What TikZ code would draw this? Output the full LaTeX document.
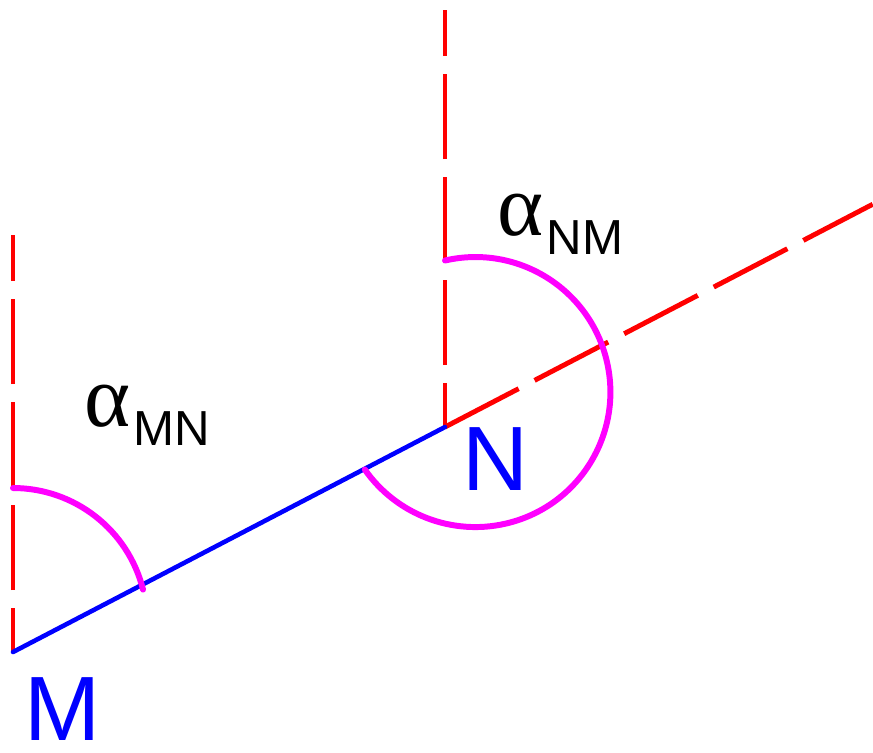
\documentclass[tikz,border=0pt]{standalone}
\usepackage{fontspec}
\setmainfont{Liberation Sans}
\newfontfamily\greekfont{Liberation Serif}
\usetikzlibrary{calc}
\definecolor{arcmagenta}{RGB}{255,0,255}
\begin{document}
\begin{tikzpicture}[line cap=round,line join=round,
  northline/.style={red,line width=1.4pt,line cap=butt,dash pattern=on 0.85cm off 0.18cm,dash phase=0.41cm},
  extline/.style={red,line width=1.4pt,line cap=butt,dash pattern=on 0.83cm off 0.18cm},
  anglearc/.style={arcmagenta,line width=1.7pt},
  ptlabel/.style={blue,font=\fontsize{26}{26}\selectfont,inner sep=0pt,anchor=base},
  azlabel/.style={inner sep=0pt,anchor=base west}]
  \useasboundingbox (0,0) rectangle (8.73,7.52);
  \coordinate (M) at (0.13,1.00);
  \coordinate (N) at (4.45,3.25);
  \coordinate (Mtop) at (0.13,5.17);
  \coordinate (Ntop) at (4.45,7.42);
  \coordinate (E) at ($(M)!1.99!(N)$);
  \draw[northline] (M) -- (Mtop);
  \draw[northline] (N) -- (Ntop);
  \draw[extline] (N) -- (E);
  \draw[blue,line width=1.3pt] (M) -- (N);
  \draw[anglearc] ([yshift=1.64cm]M) arc[start angle=90, end angle=14, radius=1.34];
  \draw[anglearc] ([yshift=1.665cm]N) arc[start angle=103, end angle=-145, radius=1.35];
  \node[ptlabel] (labM) at (0.625,0.12) {M};
  \node[ptlabel] (labN) at (4.95,2.62) {N};
  \node[azlabel] (azMN) at (0.84,3.26) {{\greekfont\fontsize{25}{25}\selectfont α}\kern0.03cm\raisebox{-0.19cm}{\fontsize{14}{14}\selectfont MN}};
  \node[azlabel] (azNM) at (4.97,5.17) {{\greekfont\fontsize{25}{25}\selectfont α}\kern0.03cm\raisebox{-0.19cm}{\fontsize{14}{14}\selectfont NM}};
\end{tikzpicture}
\end{document}
